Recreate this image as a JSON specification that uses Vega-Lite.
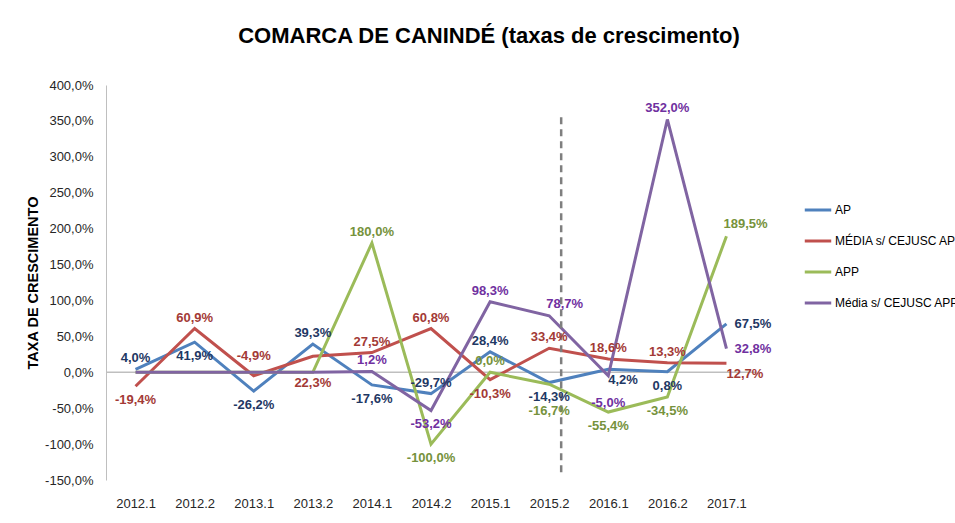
{
  "$schema": "https://vega.github.io/schema/vega-lite/v6.json",
  "width": 650,
  "height": 395,
  "autosize": {"type": "none"},
  "padding": {"left": 106, "top": 85, "right": 199, "bottom": 43},
  "background": "white",
  "title": {
    "text": "COMARCA DE CANINDÉ (taxas de crescimento)",
    "font": "Liberation Sans",
    "fontSize": 22,
    "fontWeight": "bold",
    "color": "#000000",
    "anchor": "middle",
    "frame": "group",
    "dx": 58,
    "offset": 31
  },
  "config": {
    "view": {"stroke": null},
    "font": "Liberation Sans"
  },
  "datasets": {
    "pts": [
      {"p": "2012.1", "s": "AP", "v": 4.0, "pos": "above"},
      {"p": "2012.2", "s": "AP", "v": 41.9, "pos": "below"},
      {"p": "2013.1", "s": "AP", "v": -26.2, "pos": "below"},
      {"p": "2013.2", "s": "AP", "v": 39.3, "pos": "above"},
      {"p": "2014.1", "s": "AP", "v": -17.6, "pos": "below"},
      {"p": "2014.2", "s": "AP", "v": -29.7, "pos": "above"},
      {"p": "2015.1", "s": "AP", "v": 28.4, "pos": "above"},
      {"p": "2015.2", "s": "AP", "v": -14.3, "pos": "below"},
      {"p": "2016.1", "s": "AP", "v": 4.2, "pos": "belowright"},
      {"p": "2016.2", "s": "AP", "v": 0.8, "pos": "below"},
      {"p": "2017.1", "s": "AP", "v": 67.5, "pos": "right"},
      {"p": "2012.1", "s": "MÉDIA s/ CEJUSC AP", "v": -19.4, "pos": "below"},
      {"p": "2012.2", "s": "MÉDIA s/ CEJUSC AP", "v": 60.9, "pos": "above"},
      {"p": "2013.1", "s": "MÉDIA s/ CEJUSC AP", "v": -4.9, "pos": "farabove"},
      {"p": "2013.2", "s": "MÉDIA s/ CEJUSC AP", "v": 22.3, "pos": "farbelow"},
      {"p": "2014.1", "s": "MÉDIA s/ CEJUSC AP", "v": 27.5, "pos": "above"},
      {"p": "2014.2", "s": "MÉDIA s/ CEJUSC AP", "v": 60.8, "pos": "above"},
      {"p": "2015.1", "s": "MÉDIA s/ CEJUSC AP", "v": -10.3, "pos": "below"},
      {"p": "2015.2", "s": "MÉDIA s/ CEJUSC AP", "v": 33.4, "pos": "above"},
      {"p": "2016.1", "s": "MÉDIA s/ CEJUSC AP", "v": 18.6, "pos": "above"},
      {"p": "2016.2", "s": "MÉDIA s/ CEJUSC AP", "v": 13.3, "pos": "above"},
      {"p": "2017.1", "s": "MÉDIA s/ CEJUSC AP", "v": 12.7, "pos": "belowright"},
      {"p": "2012.1", "s": "APP", "v": 0.0, "pos": "none"},
      {"p": "2012.2", "s": "APP", "v": 0.0, "pos": "none"},
      {"p": "2013.1", "s": "APP", "v": 0.0, "pos": "none"},
      {"p": "2013.2", "s": "APP", "v": 0.0, "pos": "none"},
      {"p": "2014.1", "s": "APP", "v": 180.0, "pos": "above"},
      {"p": "2014.2", "s": "APP", "v": -100.0, "pos": "below"},
      {"p": "2015.1", "s": "APP", "v": 0.0, "pos": "above"},
      {"p": "2015.2", "s": "APP", "v": -16.7, "pos": "farbelow"},
      {"p": "2016.1", "s": "APP", "v": -55.4, "pos": "below"},
      {"p": "2016.2", "s": "APP", "v": -34.5, "pos": "below"},
      {"p": "2017.1", "s": "APP", "v": 189.5, "pos": "aboveright"},
      {"p": "2012.1", "s": "Média s/ CEJUSC APP", "v": 0.0, "pos": "none"},
      {"p": "2012.2", "s": "Média s/ CEJUSC APP", "v": 0.0, "pos": "none"},
      {"p": "2013.1", "s": "Média s/ CEJUSC APP", "v": 0.0, "pos": "none"},
      {"p": "2013.2", "s": "Média s/ CEJUSC APP", "v": 0.0, "pos": "none"},
      {"p": "2014.1", "s": "Média s/ CEJUSC APP", "v": 1.2, "pos": "above"},
      {"p": "2014.2", "s": "Média s/ CEJUSC APP", "v": -53.2, "pos": "below"},
      {"p": "2015.1", "s": "Média s/ CEJUSC APP", "v": 98.3, "pos": "above"},
      {"p": "2015.2", "s": "Média s/ CEJUSC APP", "v": 78.7, "pos": "aboveright"},
      {"p": "2016.1", "s": "Média s/ CEJUSC APP", "v": -5.0, "pos": "farbelow"},
      {"p": "2016.2", "s": "Média s/ CEJUSC APP", "v": 352.0, "pos": "above"},
      {"p": "2017.1", "s": "Média s/ CEJUSC APP", "v": 32.8, "pos": "right"}
    ]
  },
  "encoding": {
    "x": {
      "field": "p",
      "type": "ordinal",
      "scale": {"type": "point", "padding": 0.5},
      "axis": {
        "title": null,
        "domain": false,
        "ticks": false,
        "labelAngle": 0,
        "labelFontSize": 13,
        "labelColor": "#262626",
        "labelPadding": 17
      }
    },
    "y": {
      "field": "v",
      "type": "quantitative",
      "scale": {"domain": [-150, 400], "nice": false},
      "axis": {
        "title": "TAXA DE CRESCIMENTO",
        "titleFontSize": 14.5,
        "titleFontWeight": "bold",
        "titleColor": "#000000",
        "titlePadding": 4,
        "values": [-150, -100, -50, 0, 50, 100, 150, 200, 250, 300, 350, 400],
        "labelExpr": "replace(replace(format(datum.value, '.1f'), '.', ','), '−', '-') + '%'",
        "labelOverlap": false,
        "labelFontSize": 13,
        "labelColor": "#262626",
        "labelPadding": 13,
        "ticks": false,
        "grid": false,
        "domainColor": "#BFBFBF",
        "domainWidth": 1
      }
    }
  },
  "layer": [
    {
      "data": {"values": [{"v": 0}]},
      "mark": {"type": "rule", "color": "#BFBFBF", "strokeWidth": 1.5},
      "encoding": {"x": null}
    },
    {
      "data": {"name": "pts"},
      "mark": {"type": "line", "strokeWidth": 3},
      "encoding": {
        "stroke": {
          "field": "s",
          "type": "nominal",
          "scale": {
            "domain": ["AP", "MÉDIA s/ CEJUSC AP", "APP", "Média s/ CEJUSC APP"],
            "range": ["#4F81BD", "#C0504D", "#9BBB59", "#8064A2"]
          },
          "legend": {
            "title": null,
            "orient": "none",
            "legendX": 697,
            "legendY": 110,
            "symbolType": "stroke",
            "symbolStrokeWidth": 3,
            "symbolSize": 700,
            "labelFontSize": 12,
            "labelColor": "#000000",
            "labelLimit": 400,
            "rowPadding": 10,
            "labelOffset": 2
          }
        }
      }
    },
    {
      "data": {"values": [{"p": "2015.2", "v": 355, "v2": -142}]},
      "mark": {"type": "rule", "color": "#7F7F7F", "strokeWidth": 2.5, "strokeDash": [7, 5], "xOffset": 12},
      "encoding": {
        "y2": {"field": "v2"}
      }
    },
    {
      "data": {"name": "pts"},
      "transform": [
        {"calculate": "replace(replace(format(datum.v, '.1f'), '.', ','), '−', '-') + '%'", "as": "lab"}
      ],
      "encoding": {
        "text": {"field": "lab"},
        "fill": {
          "field": "s",
          "type": "nominal",
          "scale": {
            "domain": ["AP", "MÉDIA s/ CEJUSC AP", "APP", "Média s/ CEJUSC APP"],
            "range": ["#1F3864", "#A33A36", "#76923C", "#7030A0"]
          },
          "legend": null
        }
      },
      "layer": [
        {
          "transform": [{"filter": "datum.pos == 'above'"}],
          "mark": {"type": "text", "fontSize": 13, "fontWeight": "bold", "baseline": "bottom", "dy": -4}
        },
        {
          "transform": [{"filter": "datum.pos == 'farabove'"}],
          "mark": {"type": "text", "fontSize": 13, "fontWeight": "bold", "baseline": "bottom", "dy": -13}
        },
        {
          "transform": [{"filter": "datum.pos == 'below'"}],
          "mark": {"type": "text", "fontSize": 13, "fontWeight": "bold", "baseline": "top", "dy": 8}
        },
        {
          "transform": [{"filter": "datum.pos == 'farbelow'"}],
          "mark": {"type": "text", "fontSize": 13, "fontWeight": "bold", "baseline": "top", "dy": 21}
        },
        {
          "transform": [{"filter": "datum.pos == 'right'"}],
          "mark": {"type": "text", "fontSize": 13, "fontWeight": "bold", "align": "left", "baseline": "middle", "dx": 8}
        },
        {
          "transform": [{"filter": "datum.pos == 'aboveright'"}],
          "mark": {"type": "text", "fontSize": 13, "fontWeight": "bold", "align": "left", "baseline": "bottom", "dx": -3, "dy": -5}
        },
        {
          "transform": [{"filter": "datum.pos == 'belowright'"}],
          "mark": {"type": "text", "fontSize": 13, "fontWeight": "bold", "align": "left", "baseline": "top", "dx": 0, "dy": 5}
        }
      ]
    }
  ]
}
